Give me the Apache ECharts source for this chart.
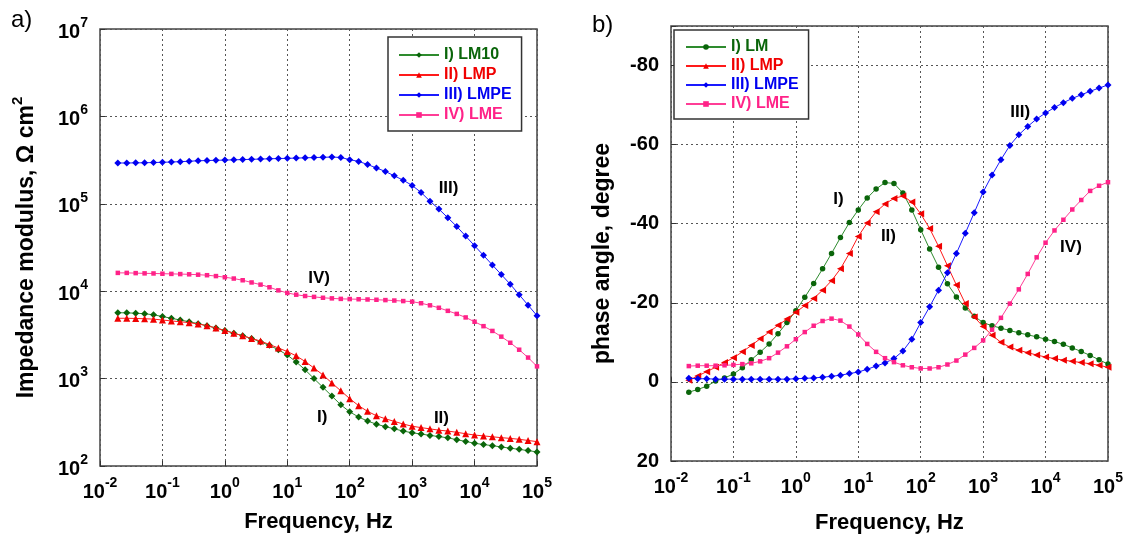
<!DOCTYPE html>
<html>
<head>
<meta charset="utf-8">
<script src="https://cdn.jsdelivr.net/npm/echarts@6.0.0/dist/echarts.min.js"></script>
<style>
  html, body { margin: 0; padding: 0; background: #fff; }
  #bode { width: 1126px; height: 539px; }
</style>
</head>
<body>
<div id="bode"></div>
<script>
// measured frequencies, Hz
const freq = [0.0193, 0.0268, 0.0373, 0.0518, 0.072, 0.1, 0.139, 0.193, 0.268, 0.373, 0.518, 0.72,
  1, 1.39, 1.93, 2.68, 3.73, 5.18, 7.2, 10, 13.9, 19.3, 26.8, 37.3,
  51.8, 72, 100, 139, 193, 268, 373, 518, 720, 1000, 1390, 1930,
  2680, 3730, 5180, 7200, 10000, 13900, 19300, 26800, 37300, 51800, 72000, 100000];

// a) impedance modulus, Ohm cm2
const lm10Modulus = [5675, 5650, 5600, 5520, 5370, 5130, 4900, 4680, 4470, 4250, 4020, 3785,
  3550, 3310, 3090, 2880, 2630, 2400, 2140, 1860, 1550, 1260, 1000, 794,
  631, 501, 417, 363, 327, 301, 282, 266, 251, 240, 232, 224,
  217, 210, 200, 191, 182, 176, 171, 165, 160, 155, 150, 145];
const lmpModulus = [4900, 4900, 4875, 4840, 4790, 4680, 4570, 4470, 4365, 4220, 4030, 3800,
  3550, 3310, 3090, 2880, 2690, 2455, 2240, 2040, 1820, 1570, 1320, 1100,
  890, 725, 590, 490, 422, 376, 347, 324, 302, 285, 275, 266,
  257, 251, 243, 234, 226, 221, 216, 211, 207, 202, 196, 190];
const lmpeModulus = [293000, 293000, 294000, 295000, 296500, 298500, 300600, 303400, 306900, 310500, 312600, 314800,
  316200, 318400, 320600, 322800, 325100, 327300, 329600, 331100, 333400, 335700, 338100, 340400,
  342800, 338800, 319900, 305500, 281800, 257000, 234400, 208900, 186200, 162200, 134900, 107200,
  87100, 69200, 55000, 42700, 33100, 25700, 19950, 15500, 12000, 9120, 6920, 5250];
const lmeModulus = [16200, 16200, 16100, 16000, 15960, 15850, 15780, 15700, 15600, 15450, 15240, 14890,
  14450, 13960, 13340, 12590, 11890, 11090, 10230, 9550, 9120, 8810, 8610, 8410,
  8280, 8170, 8130, 8090, 8040, 7980, 7910, 7820, 7710, 7590, 7280, 6890,
  6460, 5960, 5500, 5010, 4470, 3980, 3510, 3020, 2570, 2140, 1740, 1380];

// b) phase angle, degree
const lmPhase = [2.6, 1.9, 1.1, -0.2, -1.0, -2.0, -3.6, -5.6, -7.5, -9.6, -12.2, -15.0,
  -18.0, -21.4, -24.9, -28.6, -32.5, -36.5, -40.3, -43.5, -46.5, -48.8, -50.4, -50.2,
  -47.8, -43.5, -38.5, -33.6, -29.0, -24.8, -21.5, -18.7, -16.6, -15.0, -14.2, -13.6,
  -13.0, -12.4, -11.9, -11.4, -10.8, -10.2, -9.5, -8.6, -7.7, -6.7, -5.6, -4.5];
const lmpPhase = [-0.4, -1.5, -2.6, -3.7, -4.9, -6.1, -7.6, -9.2, -10.9, -12.6, -14.3, -15.9,
  -17.6, -19.3, -21.1, -23.2, -25.6, -28.6, -32.5, -36.8, -40.2, -43.0, -45.0, -46.4,
  -47.0, -45.5, -42.5, -38.8, -34.3, -29.4, -24.5, -19.8, -16.4, -14.0, -11.8, -10.0,
  -8.8, -8.0, -7.4, -6.8, -6.3, -5.9, -5.5, -5.2, -4.9, -4.6, -4.2, -3.7];
const lmpePhase = [-0.9, -0.8, -0.8, -0.7, -0.7, -0.7, -0.7, -0.7, -0.7, -0.7, -0.7, -0.7,
  -0.8, -0.9, -1.0, -1.2, -1.4, -1.7, -2.1, -2.5, -3.2, -4.0, -4.8, -5.9,
  -7.8, -10.8, -15.0, -19.0, -23.2, -27.6, -32.5, -37.6, -42.8, -48.0, -52.3, -56.2,
  -59.8, -62.5, -64.6, -66.5, -68.0, -69.4, -70.6, -71.7, -72.6, -73.5, -74.3, -75.1];
const lmePhase = [-4.0, -4.1, -4.1, -4.1, -4.2, -4.3, -4.5, -4.7, -5.2, -6.0, -7.4, -9.0,
  -10.8, -12.6, -14.2, -15.4, -16.0, -15.5, -14.0, -12.0, -9.6, -7.6, -6.0, -5.0,
  -4.2, -3.7, -3.4, -3.4, -3.7, -4.4, -5.4, -6.9, -8.6, -10.5, -13.2, -16.2,
  -19.8, -23.4, -27.3, -31.5, -35.2, -38.3, -41.0, -43.6, -46.0, -48.3, -49.6, -50.5];

// curve tags: [frequency, value, text]
const modulusTags = [[3900, 150000, 'III)'], [33, 14000, 'IV)'], [37, 360, 'I)'], [3000, 345, 'II)']];
const phaseTags = [[4000, -68, 'III)'], [4.9, -46, 'I)'], [31, -36.8, 'II)'], [26000, -34, 'IV)']];

const modulusNames = ['I) LM10', 'II) LMP', 'III) LMPE', 'IV) LME'];
const phaseNames = ['I) LM', 'II) LMP', 'III) LMPE', 'IV) LME'];

const font = '"Liberation Sans", Arial, sans-serif';
// green, red, blue, pink
const markColors = ['#0a650a', '#f00000', '#0000f0', '#ff2288'];
const lineColors = ['#2e8b2e', '#ff1a1a', '#1a1aff', '#ff3d96'];

function pairs(values) {
  return freq.map((f, i) => [f, values[i]]);
}

// 10^n tick labels
function power(v) {
  return '{b|10}{e|' + Math.round(Math.log10(v)) + '}';
}

const powerRich = {
  b: { fontFamily: font, fontWeight: 'bold', fontSize: 20, color: '#000', lineHeight: 26, verticalAlign: 'bottom' },
  e: { fontFamily: font, fontWeight: 'bold', fontSize: 14, color: '#000', lineHeight: 14, verticalAlign: 'top' },
};

function curve(name, values, k, xi, symbol, size, rotate) {
  return {
    type: 'line',
    name: name,
    xAxisIndex: xi,
    yAxisIndex: xi,
    data: pairs(values),
    symbol: symbol,
    symbolSize: size,
    symbolRotate: rotate || 0,
    showAllSymbol: true,
    lineStyle: { color: lineColors[k], width: 1 },
    itemStyle: { color: markColors[k], borderWidth: 0 },
    emphasis: { disabled: true },
    animation: false,
    z: 3 + k,
  };
}

function tags(list, xi) {
  return {
    type: 'scatter',
    xAxisIndex: xi,
    yAxisIndex: xi,
    data: list.map((t) => ({ value: [t[0], t[1]], name: t[2] })),
    symbolSize: 1,
    itemStyle: { color: 'transparent' },
    label: {
      show: true,
      position: [0, 0],
      align: 'center',
      verticalAlign: 'middle',
      formatter: (p) => p.name,
      fontFamily: font,
      fontWeight: 'bold',
      fontSize: 17,
      color: '#000',
      opacity: 1,
      textBorderWidth: 0,
    },
    emphasis: { disabled: true },
    silent: true,
    animation: false,
    z: 10,
  };
}

function legendBox(names, left, top, padding, gap, textGap) {
  return {
    orient: 'vertical',
    left: left,
    top: top,
    data: names.map((n, k) => ({ name: n, textStyle: { color: markColors[k] } })),
    backgroundColor: '#fff',
    borderColor: '#333',
    borderWidth: 1.5,
    padding: padding,
    itemWidth: 40,
    itemHeight: 7,
    itemGap: gap,
    itemTextGap: textGap,
    selectedMode: false,
    textStyle: { fontFamily: font, fontWeight: 'bold', fontSize: 16 },
  };
}

const gridBorder = { show: true, borderColor: '#444', borderWidth: 1.5, backgroundColor: 'transparent' };
const dotted = { show: true, lineStyle: { color: '#555', type: [2, 3], width: 1 } };
const ticks = { show: true, inside: true, length: 5, lineStyle: { color: '#333' } };
const titleStyle = { fontFamily: font, fontWeight: 'bold', fontSize: 22, color: '#000' };

function freqAxis(gi, gap) {
  return {
    type: 'log',
    gridIndex: gi,
    logBase: 10,
    min: 0.01,
    max: 100000,
    axisLine: { show: false },
    axisTick: ticks,
    minorTick: { show: false },
    splitLine: dotted,
    axisLabel: { formatter: power, rich: powerRich, margin: 10 },
    name: 'Frequency, Hz',
    nameLocation: 'middle',
    nameGap: gap,
    nameTextStyle: titleStyle,
  };
}

const chart = echarts.init(document.getElementById('bode'), null, { renderer: 'canvas' });

chart.setOption({
  backgroundColor: '#fff',
  animation: false,
  grid: [
    Object.assign({ left: 100, top: 29, width: 437, height: 437 }, gridBorder),
    Object.assign({ left: 671, top: 26, width: 437, height: 436 }, gridBorder),
  ],
  legend: [
    legendBox(modulusNames, 388, 37, [10, 10, 8, 10], 4, 5),
    legendBox(phaseNames, 674, 30, [9, 10, 7, 11], 3, 7),
  ],
  xAxis: [freqAxis(0, 45), freqAxis(1, 51)],
  yAxis: [
    {
      type: 'log',
      gridIndex: 0,
      logBase: 10,
      min: 100,
      max: 10000000,
      axisLine: { show: false },
      axisTick: ticks,
      minorTick: { show: false },
      splitLine: dotted,
      axisLabel: { formatter: power, rich: powerRich, margin: 12 },
      name: '{t|Impedance modulus, \u03A9 cm}{s|2}',
      nameLocation: 'middle',
      nameGap: 62,
      nameTextStyle: {
        rich: {
          t: { fontFamily: font, fontWeight: 'bold', fontSize: 23, color: '#000', lineHeight: 28, verticalAlign: 'bottom' },
          s: { fontFamily: font, fontWeight: 'bold', fontSize: 15, color: '#000', lineHeight: 15, verticalAlign: 'top' },
        },
      },
    },
    {
      type: 'value',
      gridIndex: 1,
      min: -90,
      max: 20,
      inverse: true,
      axisLine: { show: false },
      axisTick: ticks,
      splitLine: dotted,
      axisLabel: {
        formatter: (v) => (v === -90 ? '' : String(v)),
        fontFamily: font,
        fontWeight: 'bold',
        fontSize: 20,
        color: '#000',
        margin: 12,
      },
      name: 'phase angle, degree',
      nameLocation: 'middle',
      nameGap: 57,
      nameTextStyle: Object.assign({}, titleStyle, { fontSize: 23, padding: [0, 20, 0, 0] }),
    },
  ],
  graphic: [
    { type: 'text', left: 11, top: 8, style: { text: 'a)', fontFamily: font, fontSize: 24, fill: '#000' } },
    { type: 'text', left: 592, top: 13, style: { text: 'b)', fontFamily: font, fontSize: 24, fill: '#000' } },
  ],
  series: [
    curve(modulusNames[0], lm10Modulus, 0, 0, 'diamond', 7),
    curve(modulusNames[1], lmpModulus, 1, 0, 'triangle', 7),
    curve(modulusNames[2], lmpeModulus, 2, 0, 'diamond', 7),
    curve(modulusNames[3], lmeModulus, 3, 0, 'rect', 4.5),
    tags(modulusTags, 0),
    curve(phaseNames[0], lmPhase, 0, 1, 'circle', 5.5),
    curve(phaseNames[1], lmpPhase, 1, 1, 'triangle', 7, 90),
    curve(phaseNames[2], lmpePhase, 2, 1, 'diamond', 7),
    curve(phaseNames[3], lmePhase, 3, 1, 'rect', 4.5),
    tags(phaseTags, 1),
  ],
});
</script>
</body>
</html>
